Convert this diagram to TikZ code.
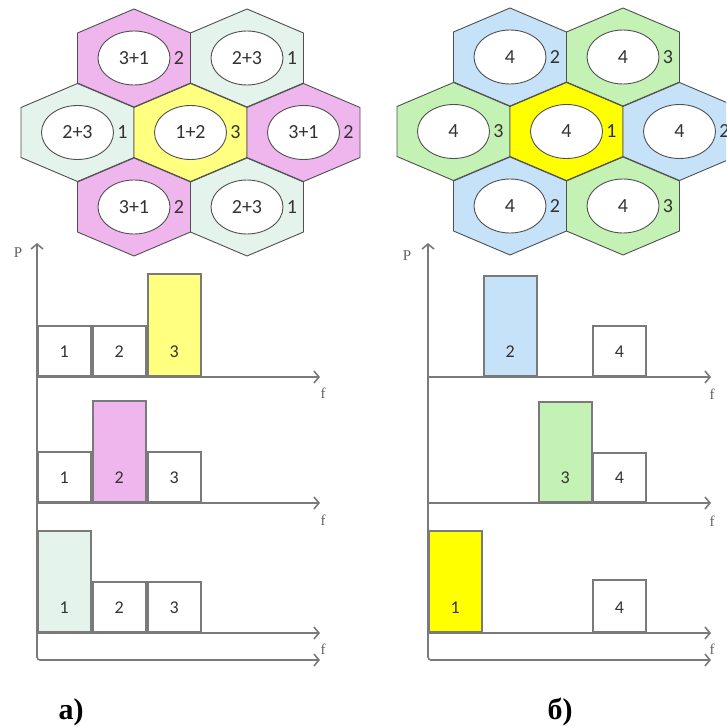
\documentclass[tikz,border=0pt]{standalone}
\usepackage{fontspec}
\setmainfont{Liberation Serif}
\setsansfont{Carlito}
\usetikzlibrary{arrows.meta,shapes.geometric}
\definecolor{hpink}{HTML}{EEB6EC}
\definecolor{hmint}{HTML}{E4F3EC}
\definecolor{hlyel}{HTML}{FFFF80}
\definecolor{hyel}{HTML}{FFFF00}
\definecolor{hblue}{HTML}{C6E2F8}
\definecolor{hgreen}{HTML}{C4F2B4}
\definecolor{hline}{HTML}{505050}
\definecolor{axcol}{HTML}{7A7A7A}
\definecolor{txtcol}{HTML}{333333}
\tikzset{
  hexline/.style={draw=hline,line width=0.9pt,line join=miter},
  cellell/.style={ellipse,draw=hline,fill=white,line width=0.9pt,minimum width=72pt,minimum height=54pt,inner sep=0pt,font=\sffamily\fontsize{20}{20}\selectfont,text=txtcol},
  cellnum/.style={inner sep=0pt,font=\sffamily\fontsize{20}{20}\selectfont,text=txtcol},
  axis/.style={draw=axcol,line width=1.6pt},
  barbox/.style={draw=axcol,line width=1.6pt,minimum width=53pt,inner sep=0pt,anchor=south west},
  barlbl/.style={inner sep=0pt,font=\sffamily\fontsize{18}{18}\selectfont,text=txtcol},
  axlbl/.style={inner sep=0pt,font=\fontsize{15}{15}\selectfont,text=axcol!80!black},
  caption/.style={inner sep=0pt,font=\bfseries\fontsize{30}{30}\selectfont}
}
\newcommand\hexcell[6]{%
  \path[hexline,fill=#4] (#2,#3) ++(0,-49) -- ++(56.5,24) -- ++(0,50) -- ++(-56.5,24) -- ++(-56.5,-24) -- ++(0,-50) -- cycle;
  \node[cellell] (#1) at (#2,#3) {#5};
  \node[cellnum] (#1n) at ([xshift=45pt]#1.center) {#6};
}
\newcommand\mybar[6]{% name, x, axis y, height, fill, label
  \node[barbox,fill=#5,minimum height=#4pt] (#1) at (#2,#3) {};
  \node[barlbl] (#1l) at ([yshift=25pt]#1.south) {#6};
}
\begin{document}
\begin{tikzpicture}[x=1pt,y=-1pt]
\clip (0,0) rectangle (726,727);
\fill[white] (0,0) rectangle (726,727);
% ---------- left hexagons ----------
\hexcell{la}{134}{58}{hpink}{3+1}{2}
\hexcell{lb}{247}{58}{hmint}{2+3}{1}
\hexcell{lc}{77.5}{132.5}{hmint}{2+3}{1}
\hexcell{ld}{190.5}{132.5}{hlyel}{1+2}{3}
\hexcell{le}{303.5}{132.5}{hpink}{3+1}{2}
\hexcell{lf}{134}{207}{hpink}{3+1}{2}
\hexcell{lg}{247}{207}{hmint}{2+3}{1}
% ---------- right hexagons ----------
\hexcell{ra}{510}{57}{hblue}{4}{2}
\hexcell{rb}{623}{57}{hgreen}{4}{3}
\hexcell{rc}{453.5}{131.5}{hgreen}{4}{3}
\hexcell{rd}{566.5}{131.5}{hyel}{4}{1}
\hexcell{re}{679.5}{131.5}{hblue}{4}{2}
\hexcell{rf}{510}{206}{hblue}{4}{2}
\hexcell{rg}{623}{206}{hgreen}{4}{3}
% ---------- left charts ----------
\coordinate (lo) at (37,660);
\coordinate (lt) at (37,243);
\coordinate (lr) at (320,660);
\mybar{l11}{37}{377}{50}{white}{1}
\mybar{l12}{92}{377}{50}{white}{2}
\mybar{l13}{147}{377}{102}{hlyel}{3}
\mybar{l21}{37}{503}{50}{white}{1}
\mybar{l22}{92}{503}{101}{hpink}{2}
\mybar{l23}{147}{503}{50}{white}{3}
\mybar{l31}{37}{633}{101}{hmint}{1}
\mybar{l32}{92}{633}{50}{white}{2}
\mybar{l33}{147}{633}{50}{white}{3}
\draw[axis,{Straight Barb[length=5pt,width=12pt]}-{Straight Barb[length=5pt,width=12pt]},rounded corners=3pt] (lr) -| (lt);
\coordinate (la1) at (37,377); \coordinate (lb1) at (320,377);
\coordinate (la2) at (37,503); \coordinate (lb2) at (320,503);
\coordinate (la3) at (37,633); \coordinate (lb3) at (320,633);
\draw[axis,-{Straight Barb[length=5pt,width=12pt]}] (la1) -- (lb1);
\draw[axis,-{Straight Barb[length=5pt,width=12pt]}] (la2) -- (lb2);
\draw[axis,-{Straight Barb[length=5pt,width=12pt]}] (la3) -- (lb3);
\node[axlbl] (lP) at (18,253) {P};
\node[axlbl] (lf1) at (323,393) {f};
\node[axlbl] (lf2) at (323,520) {f};
\node[axlbl] (lf3) at (323,649) {f};
% ---------- right charts ----------
\coordinate (ro) at (428,660);
\coordinate (rt) at (428,243);
\coordinate (rr) at (711,660);
\mybar{r12}{483}{377}{100}{hblue}{2}
\mybar{r14}{592}{377}{50}{white}{4}
\mybar{r23}{538}{503}{100}{hgreen}{3}
\mybar{r24}{592}{503}{49}{white}{4}
\mybar{r31}{428}{633}{101}{hyel}{1}
\mybar{r34}{592}{633}{52}{white}{4}
\draw[axis,{Straight Barb[length=5pt,width=12pt]}-{Straight Barb[length=5pt,width=12pt]},rounded corners=3pt] (rr) -| (rt);
\coordinate (ra1) at (428,377); \coordinate (rb1) at (711,377);
\coordinate (ra2) at (428,503); \coordinate (rb2) at (711,503);
\coordinate (ra3) at (428,633); \coordinate (rb3) at (711,633);
\draw[axis,-{Straight Barb[length=5pt,width=12pt]}] (ra1) -- (rb1);
\draw[axis,-{Straight Barb[length=5pt,width=12pt]}] (ra2) -- (rb2);
\draw[axis,-{Straight Barb[length=5pt,width=12pt]}] (ra3) -- (rb3);
\node[axlbl] (rP) at (407,256) {P};
\node[axlbl] (rf1) at (712,394) {f};
\node[axlbl] (rf2) at (712,521) {f};
\node[axlbl] (rf3) at (712,649) {f};
% ---------- captions ----------
\node[caption] (capa) at (71,712) {а)};
\node[caption] (capb) at (560,712) {б)};
\end{tikzpicture}
\end{document}
